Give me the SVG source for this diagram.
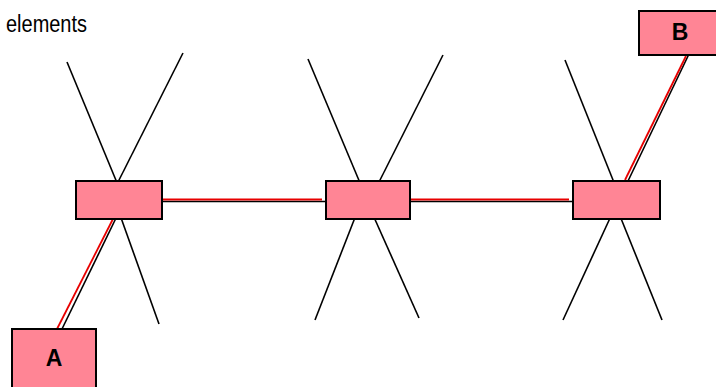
<svg xmlns="http://www.w3.org/2000/svg" width="716" height="387" viewBox="0 0 716 387">
<style>
.box{fill:#FF8595;stroke:#000;stroke-width:2}
.ln{stroke:#000;stroke-width:1.6;fill:none}
.rd{stroke:#E80000;stroke-width:1.8;fill:none}
.lbl{font-family:"Liberation Sans",Arial,sans-serif;font-weight:bold;font-size:23px;text-anchor:middle;fill:#000}
.cap{font-family:"Liberation Sans",Arial,sans-serif;font-size:23px;fill:#000}
</style>
<rect width="716" height="387" fill="#fff"/>
<text class="cap" x="6" y="32" textLength="81" lengthAdjust="spacingAndGlyphs">elements</text>
<g id="connectors">
  <line class="ln" x1="67" y1="62" x2="120" y2="190"/>
  <line class="ln" x1="183" y1="53" x2="114" y2="190"/>
  <line class="ln" x1="120" y1="215" x2="159" y2="324"/>
  <line class="ln" x1="308" y1="59" x2="363" y2="190"/>
  <line class="ln" x1="443" y1="55" x2="375" y2="190"/>
  <line class="ln" x1="356" y1="215" x2="315" y2="320"/>
  <line class="ln" x1="373" y1="215" x2="419" y2="318"/>
  <line class="ln" x1="565" y1="60" x2="617" y2="190"/>
  <line class="ln" x1="611" y1="216" x2="563" y2="320"/>
  <line class="ln" x1="620" y1="216" x2="662" y2="320"/>
  <line class="ln" x1="118" y1="214" x2="62" y2="329"/>
  <line class="rd" x1="115" y1="215" x2="57" y2="329"/>
  <line class="ln" x1="162" y1="201.5" x2="326" y2="201.5"/>
  <line class="rd" x1="162" y1="199.5" x2="322" y2="199.5"/>
  <line class="ln" x1="410" y1="201.5" x2="573" y2="201.5"/>
  <line class="rd" x1="410" y1="199.5" x2="569" y2="199.5"/>
  <line class="ln" x1="689" y1="54" x2="628" y2="181"/>
  <line class="rd" x1="686" y1="56" x2="625" y2="180"/>
</g>
<g id="node1"><rect class="box" x="76" y="181" width="86" height="38"/></g>
<g id="node2"><rect class="box" x="326" y="181" width="84" height="38"/></g>
<g id="node3"><rect class="box" x="573" y="181" width="87" height="38"/></g>
<g id="nodeA"><rect class="box" x="12" y="329" width="84" height="60"/><text class="lbl" x="54" y="366">A</text></g>
<g id="nodeB"><rect class="box" x="639" y="11" width="82" height="44"/><text class="lbl" x="680" y="40">B</text></g>
</svg>
